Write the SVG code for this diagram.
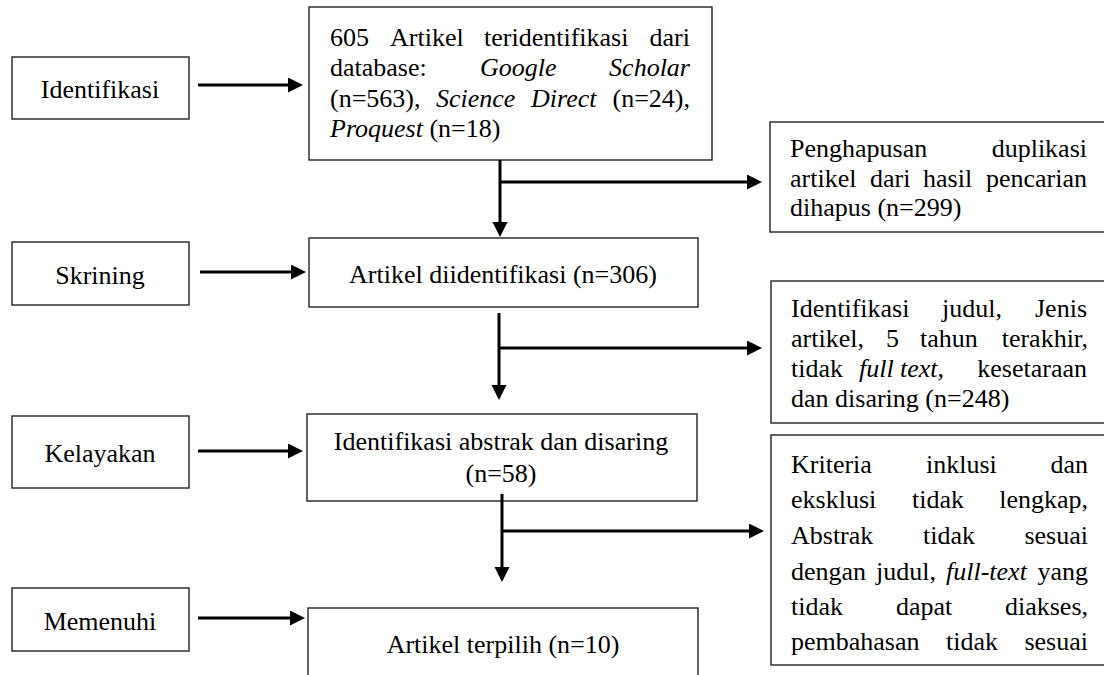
<svg xmlns="http://www.w3.org/2000/svg" width="1104" height="675" viewBox="0 0 1104 675">
<style>
.box{fill:#fff;stroke:#222;stroke-width:1.4}
.c{text-anchor:middle}
.e{text-anchor:end}
.i{font-style:italic}
.ln{stroke:#000;stroke-width:3;fill:none}
</style>
<defs>
<marker id="ah" markerUnits="userSpaceOnUse" markerWidth="16" markerHeight="16" refX="3" refY="7.5" orient="auto">
<path d="M0,0 L15,7.5 L0,15 z" fill="#000"/>
</marker>
</defs>
<rect width="1104" height="675" fill="#fff"/>
<g font-family="Liberation Serif" font-size="26" fill="#000">

<g id="n-identifikasi"><rect class="box" x="12" y="57" width="177" height="62"/><text class="c" x="100" y="98">Identifikasi</text></g>
<g id="n-skrining"><rect class="box" x="12" y="242" width="177" height="63"/><text class="c" x="100" y="284">Skrining</text></g>
<g id="n-kelayakan"><rect class="box" x="12" y="416" width="177" height="72"/><text class="c" x="100" y="462">Kelayakan</text></g>
<g id="n-memenuhi"><rect class="box" x="12" y="588" width="177" height="63"/><text class="c" x="100" y="630">Memenuhi</text></g>

<g id="n-artikel605"><rect class="box" x="309" y="7" width="403" height="153"/>
<text y="46"><tspan x="330">605</tspan><tspan x="390">Artikel</tspan><tspan x="484">teridentifikasi</tspan><tspan class="e" x="690">dari</tspan></text>
<text y="76"><tspan x="330">database:</tspan><tspan class="i" x="480">Google</tspan><tspan class="i e" x="690">Scholar</tspan></text>
<text y="107"><tspan x="330">(n=563),</tspan><tspan class="i" x="436">Science</tspan><tspan class="i" x="531">Direct</tspan><tspan class="e" x="690">(n=24),</tspan></text>
<text x="330" y="137"><tspan class="i">Proquest</tspan> (n=18)</text>
</g>

<g id="n-penghapusan"><rect class="box" x="770" y="122" width="340" height="110"/>
<text y="157"><tspan x="790">Penghapusan</tspan><tspan class="e" x="1087">duplikasi</tspan></text>
<text y="187"><tspan x="790">artikel</tspan><tspan x="870">dari</tspan><tspan x="923">hasil</tspan><tspan class="e" x="1087">pencarian</tspan></text>
<text x="790" y="216">dihapus (n=299)</text>
</g>

<g id="n-artikel306"><rect class="box" x="309" y="238" width="389" height="69"/><text class="c" x="503" y="283">Artikel diidentifikasi (n=306)</text></g>

<g id="n-judul"><rect class="box" x="771" y="281" width="340" height="142"/>
<text y="317"><tspan x="791">Identifikasi</tspan><tspan x="942">judul,</tspan><tspan class="e" x="1087">Jenis</tspan></text>
<text y="347"><tspan x="791">artikel,</tspan><tspan x="886">5</tspan><tspan x="920">tahun</tspan><tspan class="e" x="1088">terakhir,</tspan></text>
<text y="377"><tspan x="791">tidak</tspan><tspan class="i" x="859">full</tspan><tspan class="i" x="900">text</tspan><tspan>,</tspan><tspan class="e" x="1087">kesetaraan</tspan></text>
<text x="791" y="407">dan disaring (n=248)</text>
</g>

<g id="n-abstrak"><rect class="box" x="307" y="414" width="390" height="87"/>
<text class="c" x="501" y="450">Identifikasi abstrak dan disaring</text>
<text class="c" x="501" y="482">(n=58)</text>
</g>

<g id="n-kriteria"><rect class="box" x="771" y="435" width="340" height="230"/>
<text y="473"><tspan x="791">Kriteria</tspan><tspan x="926">inklusi</tspan><tspan class="e" x="1088">dan</tspan></text>
<text y="508"><tspan x="791">eksklusi</tspan><tspan x="912">tidak</tspan><tspan class="e" x="1088">lengkap,</tspan></text>
<text y="544"><tspan x="791">Abstrak</tspan><tspan x="923">tidak</tspan><tspan class="e" x="1088">sesuai</tspan></text>
<text y="580"><tspan x="791">dengan</tspan><tspan x="876">judul,</tspan><tspan class="i" x="946">full-text</tspan><tspan class="e" x="1088">yang</tspan></text>
<text y="615"><tspan x="791">tidak</tspan><tspan x="896">dapat</tspan><tspan class="e" x="1088">diakses,</tspan></text>
<text y="650"><tspan x="791">pembahasan</tspan><tspan x="946">tidak</tspan><tspan class="e" x="1088">sesuai</tspan></text>
</g>

<g id="n-terpilih"><rect class="box" x="308" y="608" width="390" height="80"/><text class="c" x="503" y="653">Artikel terpilih (n=10)</text></g>
</g>

<g id="connectors">
<line class="ln" x1="198" y1="85" x2="291" y2="85" marker-end="url(#ah)"/>
<line class="ln" x1="200" y1="272" x2="294" y2="272" marker-end="url(#ah)"/>
<line class="ln" x1="198" y1="451" x2="291" y2="451" marker-end="url(#ah)"/>
<line class="ln" x1="198" y1="618" x2="293" y2="618" marker-end="url(#ah)"/>

<line class="ln" x1="500" y1="160" x2="500" y2="225" marker-end="url(#ah)"/>
<line class="ln" x1="500" y1="182" x2="750" y2="182" marker-end="url(#ah)"/>

<line class="ln" x1="499" y1="313" x2="499" y2="388" marker-end="url(#ah)"/>
<line class="ln" x1="499" y1="348" x2="750" y2="348" marker-end="url(#ah)"/>

<line class="ln" x1="502" y1="494" x2="502" y2="570" marker-end="url(#ah)"/>
<line class="ln" x1="502" y1="531" x2="752" y2="531" marker-end="url(#ah)"/>
</g>
</svg>
